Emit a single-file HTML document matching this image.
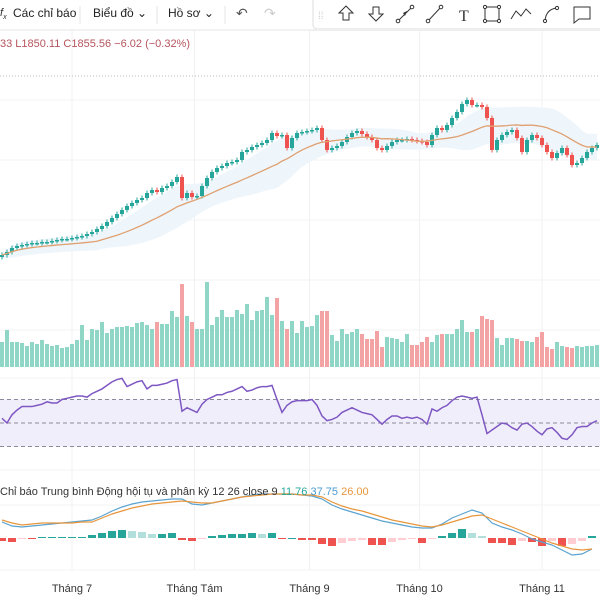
<!DOCTYPE html>
<html><head><meta charset="utf-8">
<style>
html,body{margin:0;padding:0;background:#fff;width:600px;height:600px;overflow:hidden;font-family:"Liberation Sans","Noto Sans CJK SC",sans-serif}
svg{display:block}
</style></head>
<body>
<svg id="chart" width="600" height="600" viewBox="0 0 600 600" xmlns="http://www.w3.org/2000/svg">
  <g id="grid"></g>
  <g id="band"></g>
  <g id="volume"></g>
  <g id="candles"></g>
  <g id="ma"></g>
  <g id="rsi"></g>
  <g id="macd"></g>
  <g id="axis"></g>
  <line x1="0" y1="76" x2="600" y2="76" stroke="#b8b8b8" stroke-dasharray="1,2"/>
  <text x="0" y="47" font-size="11" fill="#b5545c">33 L1850.11 C1855.56 −6.02 (−0.32%)</text>
  <text x="0" y="495" font-size="11" fill="#333">Chỉ báo Trung bình Động hội tụ và phân kỳ 12 26 close 9 <tspan fill="#26a69a">11.76</tspan> <tspan fill="#4a9bd0">37.75</tspan> <tspan fill="#e8963c">26.00</tspan></text>

  <g>
    <rect x="0" y="0" width="600" height="30" fill="#fff"/>
    <line x1="0" y1="30" x2="315" y2="30" stroke="#e6e6e6"/>
    <text x="0" y="16" font-size="11" fill="#333" font-style="italic">f<tspan font-size="7" dy="3">x</tspan></text>
    <text x="13" y="17" font-size="12" fill="#222">Các chỉ báo</text>
    <line x1="80" y1="6" x2="80" y2="24" stroke="#e6e6e6"/>
    <text x="93" y="17" font-size="12" fill="#222">Biểu đồ ⌄</text>
    <line x1="157" y1="6" x2="157" y2="24" stroke="#e6e6e6"/>
    <text x="168" y="17" font-size="12" fill="#222">Hồ sơ ⌄</text>
    <line x1="225" y1="6" x2="225" y2="24" stroke="#e6e6e6"/>
    <text x="236" y="18" font-size="14" fill="#555">↶</text>
    <text x="264" y="18" font-size="14" fill="#ccc">↷</text>
  </g>
  <g>
    <rect x="313" y="-4" width="292" height="33" rx="4" fill="#fff" stroke="#ddd"/>
    <rect x="313" y="29" width="292" height="2" fill="#eee"/>
    <text x="318" y="19" font-size="10" fill="#ccc">⁞⁞</text>
    <path d="M346 6 L353 13 L349 13 L349 20 L343 20 L343 13 L339 13 Z" fill="none" stroke="#333"/>
    <path d="M376 21 L383 14 L379 14 L379 7 L373 7 L373 14 L369 14 Z" fill="none" stroke="#333"/>
    <g><line x1="398" y1="21" x2="412" y2="7" stroke="#333"/><circle cx="398" cy="21" r="1.8" fill="#fff" stroke="#333"/><circle cx="412" cy="7" r="1.8" fill="#fff" stroke="#333"/><path d="M403 13 L407 11 L405 16 Z" fill="#333"/></g>
    <g><line x1="428" y1="21" x2="441" y2="7" stroke="#333"/><circle cx="428" cy="21" r="1.8" fill="#fff" stroke="#333"/><circle cx="441" cy="7" r="1.8" fill="#fff" stroke="#333"/></g>
    <text x="459" y="21" font-size="16" fill="#333" font-family="Liberation Serif, serif">T</text>
    <g><rect x="485" y="7" width="14" height="14" fill="none" stroke="#333"/><circle cx="485" cy="7" r="1.6" fill="#fff" stroke="#333"/><circle cx="499" cy="7" r="1.6" fill="#fff" stroke="#333"/><circle cx="485" cy="21" r="1.6" fill="#fff" stroke="#333"/><circle cx="499" cy="21" r="1.6" fill="#fff" stroke="#333"/></g>
    <path d="M511 19 L516 11 L521 16 L526 9 L531 14" fill="none" stroke="#333"/>
    <g><path d="M545 21 Q546 9 557 8" fill="none" stroke="#333"/><circle cx="545" cy="21" r="1.6" fill="#fff" stroke="#333"/><circle cx="557" cy="8" r="1.6" fill="#fff" stroke="#333"/></g>
    <path d="M574 7 L590 7 L590 19 L579 19 L574 23 Z" fill="none" stroke="#333"/>
  </g>
</svg>
<script>
const monthLabels = ["Tháng 7","Tháng Tám","Tháng 9","Tháng 10","Tháng 11"];
const monthIndex = [14,38.5,61.5,83.5,108];
const closes = [1090,1096,1104,1108,1110,1112,1114,1114,1116,1116,
1118,1120,1122,1122,1124,1126,1128,1132,1136,1142,
1148,1156,1164,1172,1180,1188,1194,1200,1204,1214,
1220,1216,1224,1228,1236,1246,1204,1214,1206,1208,
1228,1244,1256,1264,1268,1274,1276,1280,1296,1300,
1306,1310,1314,1320,1334,1328,1330,1304,1324,1334,
1336,1338,1340,1344,1320,1300,1304,1308,1316,1326,
1334,1338,1332,1326,1320,1304,1300,1308,1316,1320,
1320,1322,1320,1318,1316,1310,1330,1344,1340,1350,
1364,1376,1392,1400,1390,1390,1386,1364,1300,1320,
1330,1336,1340,1324,1296,1320,1330,1324,1310,1296,
1284,1294,1304,1290,1270,1274,1284,1296,1304,1310];
const volumes = [25,37,25,25,24,21,25,23,27,23,
21,22,19,20,23,27,42,27,38,37,
45,34,38,40,40,41,40,44,45,42,
38,45,43,43,56,50,83,51,45,38,
38,85,42,50,57,50,50,57,53,63,
47,56,57,70,52,69,46,38,46,34,
46,40,41,52,56,56,32,26,38,33,
35,38,33,28,28,36,20,30,29,28,
25,33,22,22,25,30,25,32,33,33,
33,38,47,35,35,38,51,48,47,29,
22,29,29,28,26,26,25,30,35,20,
18,25,21,20,19,21,20,21,21,22];
const rsiValues = [54,50,57,61,64,64,64,65,66,68,
67,67,70,71,72,73,73,72,75,77,
79,82,85,87,88,81,83,85,86,79,
82,82,83,84,86,87,60,63,61,59,
66,70,72,74,74,76,77,79,81,77,
78,80,81,81,82,70,59,65,68,69,
69,69,70,65,56,52,53,55,59,61,
63,61,59,58,57,53,49,53,56,56,
54,55,54,55,53,49,62,60,63,65,
69,72,73,72,71,72,57,41,44,47,
50,49,46,44,49,50,47,43,40,45,
46,42,37,36,40,46,47,47,50,52];
const macdLine = [16,12,11,12,13,14,15,16,17,18,22,27,31,34,36,37,38,39,39,34,33,35,37,39,41,43,44,44,44,44,43,42,39,33,29,26,23,20,17,15,13,11,10,10,14,20,24,28,25,15,11,8,4,-1,-4,-7,-12,-17,-16,-11];
const signalLine = [18,15,13,14,15,15,15,15,16,16,20,24,27,30,32,34,35,36,37,36,35,35,37,39,41,42,43,44,44,44,43,43,41,36,32,29,27,24,21,18,16,14,12,11,13,16,19,22,23,19,15,11,7,3,-1,-5,-8,-11,-12,-11];
const histValues = [-3,-4,-1,-1,1,1,1,1,1,3,5,7,8,7,6,4,4,5,-2,-3,-1,2,3,4,4,5,4,5,-1,0,-2,-2,-6,-8,-5,-3,-2,-7,-7,-4,-2,-1,-5,-1,2,5,9,5,2,-5,-5,-7,-3,-4,-8,-3,-8,-6,-3,2];

const NS = "http://www.w3.org/2000/svg";
const xScale = i => 2 + i * 5;
const yPrice = p => (1600 - p) / 2;
const yVol = v => 367 - v;
const yRsi = r => 423 - (r - 50) * 23.5 / 20;
const xMacd = k => 2 + k * 10;
const yMacd = v => 538 - v;
const yHist = h => 538 - h;
const GREEN = "#26a69a", RED = "#ef5350";

function mk(tag, attrs, parent) {
  const e = document.createElementNS(NS, tag);
  for (const k in attrs) e.setAttribute(k, attrs[k]);
  parent.appendChild(e);
  return e;
}

const grid = document.getElementById('grid');
monthIndex.forEach((mi, j) => {
  const gl = mk('line', {x1: xScale(mi), x2: xScale(mi), y1: 30, y2: 570, stroke: '#f1f1f1'}, grid);
  
  
});
[100, 160, 220, 280, 330, 378, 470, 505, 570].forEach(y => {
  const hl = mk('line', {x1: 0, x2: 600, y1: y, y2: y, stroke: '#f3f3f3'}, grid);
  
  
});

const P = 20, ma = [], up = [], lo = [];
for (let i = 0; i < closes.length; i++) {
  const s = closes.slice(Math.max(0, i - P + 1), i + 1);
  const m = s.reduce((a, b) => a + b, 0) / s.length;
  const sd = Math.sqrt(s.reduce((a, b) => a + (b - m) * (b - m), 0) / s.length);
  ma.push(m); up.push(m + sd + 6); lo.push(m - sd - 6);
}
let bd = up.map((v, i) => (i ? 'L' : 'M') + xScale(i) + ' ' + yPrice(v)).join(' ');
for (let i = lo.length - 1; i >= 0; i--) bd += ' L' + xScale(i) + ' ' + yPrice(lo[i]);
const bandPath = mk('path', {d: bd + ' Z', fill: '#eef6fc'}, document.getElementById('band'));


const maPath = mk('path', {d: ma.map((v, i) => (i ? 'L' : 'M') + xScale(i) + ' ' + yPrice(v)).join(' '), fill: 'none', stroke: '#e0a070', 'stroke-width': 1.3}, document.getElementById('ma'));



const cg = document.getElementById('candles'), vg = document.getElementById('volume');
closes.forEach((c, i) => {
  const o = i ? closes[i - 1] : c - 4;
  const upC = c >= o;
  const col = upC ? GREEN : RED;
  const x = xScale(i);
  const hi = Math.max(o, c) + 5, lw = Math.min(o, c) - 5;
  const w = mk('line', {x1: x, x2: x, y1: yPrice(hi), y2: yPrice(lw), stroke: col, 'stroke-width': 1}, cg);
  
  
  const top = yPrice(Math.max(o, c)), h = Math.max(1.5, yPrice(Math.min(o, c)) - top);
  const b = mk('rect', {x: x - 2, y: top, width: 4, height: h, fill: col}, cg);
  
  
  const vb = mk('rect', {x: x - 2, y: yVol(volumes[i]), width: 4, height: volumes[i], fill: upC ? '#8fd6c7' : '#f4a3a5'}, vg);
  
  
});

const rg = document.getElementById('rsi');
const rb = mk('rect', {x: 0, y: yRsi(70), width: 600, height: yRsi(30) - yRsi(70), fill: '#f1eefb'}, rg);


[70, 50, 30].forEach(v => {
  const l = mk('line', {x1: 0, x2: 600, y1: yRsi(v), y2: yRsi(v), stroke: '#8a8a9a', 'stroke-dasharray': '4,3'}, rg);
  
  
});
const rl = mk('path', {d: rsiValues.map((v, i) => (i ? 'L' : 'M') + xScale(i) + ' ' + yRsi(v)).join(' '), fill: 'none', stroke: '#7e57c2', 'stroke-width': 1.5}, rg);



const mg = document.getElementById('macd');
histValues.forEach((h, k) => {
  const prev = k ? histValues[k - 1] : 0;
  const col = h >= 0 ? (h >= prev ? '#26a69a' : '#b2dfdb') : (h <= prev ? '#ef5350' : '#ffcdd2');
  const y = Math.min(yHist(h), yHist(0)), hh = Math.max(1, Math.abs(h));
  const r = mk('rect', {x: xMacd(k) - 4, y: y, width: 8, height: hh, fill: col}, mg);
  
  
});
const ml = mk('path', {d: macdLine.map((v, k) => (k ? 'L' : 'M') + xMacd(k) + ' ' + yMacd(v)).join(' '), fill: 'none', stroke: '#5ba3d0', 'stroke-width': 1.2}, mg);


const sl = mk('path', {d: signalLine.map((v, k) => (k ? 'L' : 'M') + xMacd(k) + ' ' + yMacd(v)).join(' '), fill: 'none', stroke: '#e8963c', 'stroke-width': 1.2}, mg);



const ag = document.getElementById('axis');
monthLabels.forEach((t, j) => {
  const tx = mk('text', {x: xScale(monthIndex[j]), y: 592, 'font-size': 11, fill: '#333', 'text-anchor': 'middle'}, ag);
  tx.textContent = t;
  
  
});
</script>
</body></html>
